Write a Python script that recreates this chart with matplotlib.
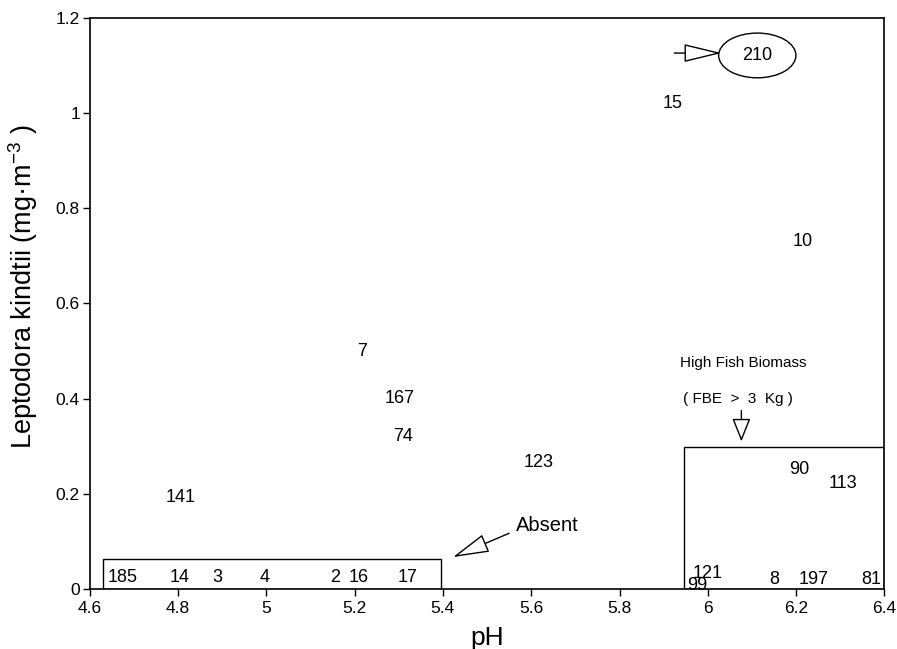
import matplotlib.pyplot as plt
from matplotlib.patches import Rectangle, Ellipse
from matplotlib.ticker import FuncFormatter

plt.rcParams['font.family'] = ['Liberation Sans', 'DejaVu Sans']

# 湖泊編號、pH 與 Leptodora 生物量
lake_id = ['210', '15', '10', '7', '167', '74', '123', '141', '90', '113',
           '185', '14', '3', '4', '2', '16', '17', '99', '121', '8', '197', '81']
ph = [6.112, 5.92, 6.215, 5.217, 5.303, 5.31, 5.616, 4.806, 6.208, 6.305,
      4.675, 4.804, 4.89, 4.997, 5.156, 5.21, 5.32, 5.976, 6.00, 6.15, 6.24, 6.37]
biomass = [1.121, 1.02, 0.73, 0.50, 0.40, 0.32, 0.266, 0.193, 0.252, 0.222,
           0.025, 0.025, 0.025, 0.025, 0.025, 0.025, 0.025, 0.008, 0.033, 0.02, 0.02, 0.02]

x_ticks = [4.6, 4.8, 5.0, 5.2, 5.4, 5.6, 5.8, 6.0, 6.2, 6.4]
y_ticks = [0, 0.2, 0.4, 0.6, 0.8, 1.0, 1.2]

fig = plt.figure(figsize=(8.97, 6.49), dpi=100)
ax = fig.add_axes([0.100, 0.0925, 0.886, 0.880])

for lab, x, y in zip(lake_id, ph, biomass):
    ax.text(x, y, lab, ha='center', va='center', fontsize=13)

# 210 號湖的圈和箭頭
ax.add_patch(Ellipse((6.112, 1.121), 0.175, 0.094, fill=False, lw=1.0))
ax.annotate('', xy=(6.031, 1.126), xytext=(5.924, 1.126),
            arrowprops=dict(arrowstyle='-|>,head_length=1.2,head_width=0.29',
                            fc='white', ec='black', lw=1.0, mutation_scale=20,
                            shrinkA=0, shrinkB=0))

# Absent 區域
ax.add_patch(Rectangle((4.63, 0), 5.396 - 4.63, 0.064, fill=False, lw=1.0))
ax.text(5.637, 0.134, 'Absent', ha='center', va='center', fontsize=14.5)
ax.annotate('', xy=(5.423, 0.067), xytext=(5.550, 0.117),
            arrowprops=dict(arrowstyle='-|>,head_length=1.15,head_width=0.3',
                            fc='white', ec='black', lw=1.0, mutation_scale=20,
                            shrinkA=0, shrinkB=0))

# 高魚類生物量區域
ax.add_patch(Rectangle((5.945, 0), 6.4 - 5.945, 0.298, fill=False, lw=1.0))
ax.text(6.08, 0.474, 'High Fish Biomass', ha='center', va='center', fontsize=11)
ax.text(6.068, 0.400, '( FBE  >  3  Kg )', ha='center', va='center', fontsize=11)
ax.annotate('', xy=(6.076, 0.31), xytext=(6.076, 0.375),
            arrowprops=dict(arrowstyle='-|>,head_length=0.8,head_width=0.32',
                            fc='white', ec='black', lw=1.0, mutation_scale=18,
                            shrinkA=0, shrinkB=0))

ax.set_xlim(4.6, 6.4)
ax.set_ylim(0, 1.2)
ax.set_xticks(x_ticks)
ax.set_yticks(y_ticks)
ax.xaxis.set_major_formatter(FuncFormatter(lambda v, p: f'{v:g}'))
ax.yaxis.set_major_formatter(FuncFormatter(lambda v, p: f'{v:g}'))
ax.tick_params(direction='out', length=5, width=1.0, labelsize=12.5)
ax.tick_params(axis='x', pad=4)
ax.tick_params(axis='y', pad=2)
for s in ax.spines.values():
    s.set_linewidth(1.2)

ax.set_xlabel('pH', fontsize=19, labelpad=7)
ax.set_ylabel('Leptodora kindtii (mg·m$\\mathregular{^{-3}}$ )', fontsize=19.5)
ax.yaxis.set_label_coords(-0.063, 0.53)

fig.savefig('out.png', dpi=100)
